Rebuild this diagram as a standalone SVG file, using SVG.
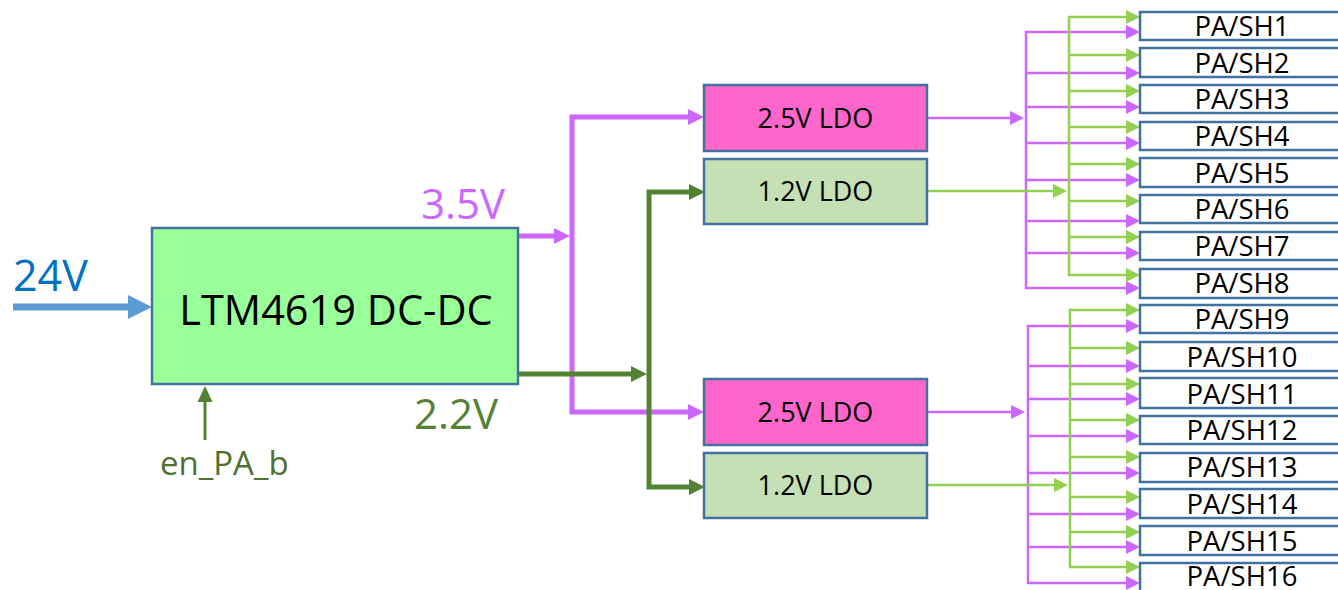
<svg xmlns="http://www.w3.org/2000/svg" width="1338" height="590" viewBox="0 0 1338 590">
<style>
text{font-family:"Open Sans","Noto Sans","Liberation Sans",sans-serif}
.box{stroke:#41719C;stroke-width:2.5}
.pa{fill:#fff;stroke:#41719C;stroke-width:2.5}
.pat{font-size:27.5px;fill:#000;text-anchor:middle}
.ldot{font-size:27px;fill:#000;text-anchor:middle}
.v{stroke:#CC66FF;fill:none}
.g{stroke:#92D050;fill:none}
.dg{stroke:#548235;fill:none}
.thick{stroke-width:5}
.thin{stroke-width:2.5}
</style>
<defs>
<marker id="aV" markerUnits="userSpaceOnUse" markerWidth="16" markerHeight="16" viewBox="0 0 16 16" refX="0" refY="8" orient="auto-start-reverse"><path d="M0,0L16,8L0,16z" fill="#CC66FF"/></marker>
<marker id="av" markerUnits="userSpaceOnUse" markerWidth="14" markerHeight="14" viewBox="0 0 14 14" refX="0" refY="7" orient="auto-start-reverse"><path d="M0,0L14,7L0,14z" fill="#CC66FF"/></marker>
<marker id="aG" markerUnits="userSpaceOnUse" markerWidth="16" markerHeight="16" viewBox="0 0 16 16" refX="0" refY="8" orient="auto-start-reverse"><path d="M0,0L16,8L0,16z" fill="#548235"/></marker>
<marker id="ag" markerUnits="userSpaceOnUse" markerWidth="14" markerHeight="14" viewBox="0 0 14 14" refX="0" refY="7" orient="auto-start-reverse"><path d="M0,0L14,7L0,14z" fill="#92D050"/></marker>
<marker id="aB" markerUnits="userSpaceOnUse" markerWidth="24" markerHeight="24" viewBox="0 0 24 24" refX="0" refY="12" orient="auto"><path d="M0,0L24,12L0,24z" fill="#5B9BD5"/></marker>
<marker id="aE" markerUnits="userSpaceOnUse" markerWidth="16" markerHeight="15" viewBox="0 0 16 15" refX="0" refY="7.5" orient="auto"><path d="M0,0L16,7.5L0,15z" fill="#548235"/></marker>
</defs>

<g id="connectors">
<line x1="13" y1="307" x2="128" y2="307" stroke="#5B9BD5" stroke-width="7" marker-end="url(#aB)"/>
<line x1="205" y1="440" x2="205" y2="402" stroke="#548235" stroke-width="3" marker-end="url(#aE)"/>
<line class="v thick" x1="519" y1="236" x2="554" y2="236" marker-end="url(#aV)"/>
<path class="v thick" d="M688,412H572V117H688" marker-start="url(#aV)" marker-end="url(#aV)"/>
<line class="dg thick" x1="519" y1="374" x2="631" y2="374" marker-end="url(#aG)"/>
<path class="dg thick" d="M689,487H649V192H689" marker-start="url(#aG)" marker-end="url(#aG)"/>

<line class="v thin" x1="927" y1="118" x2="1010" y2="118" marker-end="url(#av)"/>
<path class="v thin" d="M1126,32H1026V288H1126" marker-start="url(#av)" marker-end="url(#av)"/>
<g class="v thin" marker-end="url(#av)">
<line x1="1026" y1="73" x2="1126" y2="73"/><line x1="1026" y1="107" x2="1126" y2="107"/><line x1="1026" y1="143" x2="1126" y2="143"/><line x1="1026" y1="180" x2="1126" y2="180"/><line x1="1026" y1="221" x2="1126" y2="221"/><line x1="1026" y1="253" x2="1126" y2="253"/>
</g>
<line class="g thin" x1="927" y1="191" x2="1053" y2="191" marker-end="url(#ag)"/>
<path class="g thin" d="M1126,17H1069V275H1126" marker-start="url(#ag)" marker-end="url(#ag)"/>
<g class="g thin" marker-end="url(#ag)">
<line x1="1069" y1="55" x2="1126" y2="55"/><line x1="1069" y1="91" x2="1126" y2="91"/><line x1="1069" y1="127" x2="1126" y2="127"/><line x1="1069" y1="164" x2="1126" y2="164"/><line x1="1069" y1="201" x2="1126" y2="201"/><line x1="1069" y1="237" x2="1126" y2="237"/>
</g>

<line class="v thin" x1="927" y1="412" x2="1011" y2="412" marker-end="url(#av)"/>
<path class="v thin" d="M1126,326H1028V583H1126" marker-start="url(#av)" marker-end="url(#av)"/>
<g class="v thin" marker-end="url(#av)">
<line x1="1028" y1="366" x2="1126" y2="366"/><line x1="1028" y1="399" x2="1126" y2="399"/><line x1="1028" y1="436" x2="1126" y2="436"/><line x1="1028" y1="473" x2="1126" y2="473"/><line x1="1028" y1="514" x2="1126" y2="514"/><line x1="1028" y1="547" x2="1126" y2="547"/>
</g>
<line class="g thin" x1="927" y1="485" x2="1054" y2="485" marker-end="url(#ag)"/>
<path class="g thin" d="M1126,310H1070V567H1126" marker-start="url(#ag)" marker-end="url(#ag)"/>
<g class="g thin" marker-end="url(#ag)">
<line x1="1070" y1="348" x2="1126" y2="348"/><line x1="1070" y1="384" x2="1126" y2="384"/><line x1="1070" y1="420" x2="1126" y2="420"/><line x1="1070" y1="457" x2="1126" y2="457"/><line x1="1070" y1="497" x2="1126" y2="497"/><line x1="1070" y1="532" x2="1126" y2="532"/>
</g>
</g>

<g id="labels">
<text x="13" y="291" font-size="43" fill="#0070C0">24V</text>
<text x="421" y="219" font-size="42" fill="#CC66FF">3.5V</text>
<text x="414" y="429" font-size="42" fill="#548235">2.2V</text>
<text x="160" y="475" font-size="33" fill="#507030">en_PA_b</text>
</g>

<g id="dcdc"><rect class="box" x="152" y="228" width="366" height="156" fill="#99FF99"/><text x="336" y="325" font-size="41.5" text-anchor="middle" fill="#000">LTM4619 DC-DC</text></g>

<g id="ldo25a"><rect class="box" x="704" y="85" width="223" height="66" fill="#FF66CC"/><text class="ldot" x="815.5" y="128">2.5V LDO</text></g>
<g id="ldo12a"><rect class="box" x="704" y="159" width="223" height="65" fill="#C5E0B4"/><text class="ldot" x="815.5" y="201">1.2V LDO</text></g>
<g id="ldo25b"><rect class="box" x="704" y="379" width="223" height="66" fill="#FF66CC"/><text class="ldot" x="815.5" y="422">2.5V LDO</text></g>
<g id="ldo12b"><rect class="box" x="704" y="453" width="223" height="65" fill="#C5E0B4"/><text class="ldot" x="815.5" y="495">1.2V LDO</text></g>

<g id="pa1"><rect class="pa" x="1140" y="12" width="204" height="28"/><text class="pat" x="1242" y="36">PA/SH1</text></g>
<g id="pa2"><rect class="pa" x="1140" y="48" width="204" height="29"/><text class="pat" x="1242" y="73">PA/SH2</text></g>
<g id="pa3"><rect class="pa" x="1140" y="85" width="204" height="28"/><text class="pat" x="1242" y="109">PA/SH3</text></g>
<g id="pa4"><rect class="pa" x="1140" y="122" width="204" height="28"/><text class="pat" x="1242" y="146">PA/SH4</text></g>
<g id="pa5"><rect class="pa" x="1140" y="158" width="204" height="29"/><text class="pat" x="1242" y="183">PA/SH5</text></g>
<g id="pa6"><rect class="pa" x="1140" y="195" width="204" height="28"/><text class="pat" x="1242" y="219">PA/SH6</text></g>
<g id="pa7"><rect class="pa" x="1140" y="232" width="204" height="28"/><text class="pat" x="1242" y="256">PA/SH7</text></g>
<g id="pa8"><rect class="pa" x="1140" y="269" width="204" height="29"/><text class="pat" x="1242" y="293">PA/SH8</text></g>
<g id="pa9"><rect class="pa" x="1140" y="305" width="204" height="28"/><text class="pat" x="1242" y="329">PA/SH9</text></g>
<g id="pa10"><rect class="pa" x="1140" y="342" width="204" height="29"/><text class="pat" x="1242" y="367">PA/SH10</text></g>
<g id="pa11"><rect class="pa" x="1140" y="378" width="204" height="30"/><text class="pat" x="1242" y="404">PA/SH11</text></g>
<g id="pa12"><rect class="pa" x="1140" y="416" width="204" height="28"/><text class="pat" x="1242" y="440">PA/SH12</text></g>
<g id="pa13"><rect class="pa" x="1140" y="453" width="204" height="29"/><text class="pat" x="1242" y="477">PA/SH13</text></g>
<g id="pa14"><rect class="pa" x="1140" y="489" width="204" height="29"/><text class="pat" x="1242" y="514">PA/SH14</text></g>
<g id="pa15"><rect class="pa" x="1140" y="526" width="204" height="29"/><text class="pat" x="1242" y="551">PA/SH15</text></g>
<g id="pa16"><rect class="pa" x="1140" y="563" width="204" height="29"/><text class="pat" x="1242" y="586">PA/SH16</text></g>
</svg>
